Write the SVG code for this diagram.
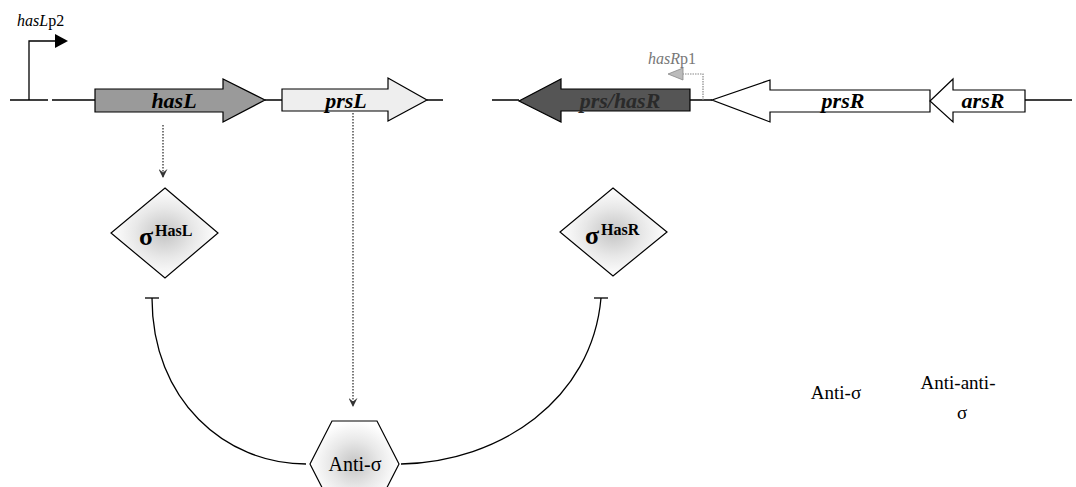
<svg xmlns="http://www.w3.org/2000/svg" width="1076" height="487" viewBox="0 0 1076 487">
<style>
.dna{stroke:#000;stroke-width:1.3;fill:none}
.gene{stroke:#000;stroke-width:1.2}
.gl{font-family:"Liberation Serif",serif;font-style:italic;font-weight:bold;font-size:22px;text-anchor:middle}
.lab{font-family:"Liberation Serif",serif;font-size:16px}
.node{stroke:#000;stroke-width:1.2;fill:url(#spk)}
.sig{font-family:"Liberation Serif",serif;font-weight:bold}
.anti{font-family:"Liberation Serif",serif;font-weight:normal;font-size:20px;text-anchor:middle}
.conn{stroke:#000;stroke-width:1.3;fill:none}
.dot{stroke:#333;stroke-width:1.3;stroke-dasharray:1.5 1.5;fill:none}
.leg{font-family:"Liberation Serif",serif;font-size:19px;text-anchor:middle}
</style>
<defs>
<radialGradient id="spk" cx="0.5" cy="0.5" r="0.5">
<stop offset="0" stop-color="#c4c4c4"/>
<stop offset="0.55" stop-color="#e8e8e8"/>
<stop offset="1" stop-color="#ffffff"/>
</radialGradient>
<marker id="chev" viewBox="0 0 10 10" refX="9" refY="5" markerWidth="9" markerHeight="9" orient="auto" markerUnits="userSpaceOnUse">
<path d="M0,0 L10,5 L0,10 L4,5 Z" fill="#333"/>
</marker>
</defs>

<g id="dna">
<path class="dna" d="M10,100 H48 M52,100 H95 M265,100 H282 M427,100 H443 M492,100 H519 M690,100 H712 M1025,100 H1072"/>
</g>

<g id="promoter-hasLp2">
<path d="M29,100 V41 H56" stroke="#000" stroke-width="1.3" fill="none"/>
<path d="M55,34 L68,41 L55,48 Z" fill="#000"/>
<text class="lab" x="17" y="26"><tspan font-style="italic">hasL</tspan>p2</text>
</g>

<g id="gene-hasL">
<path class="gene" fill="#9a9a9a" d="M95,89 H223 V79 L265,100 L223,122 V112 H95 Z"/>
<text class="gl" x="174" y="108">hasL</text>
</g>

<g id="gene-prsL">
<path class="gene" fill="#eeeeee" d="M282,89 H388 V78 L427,100 L388,121 V111 H282 Z"/>
<text class="gl" x="346" y="108">prsL</text>
</g>

<g id="gene-hasR">
<path class="gene" fill="#555555" d="M690,89 H561 V79 L519,101 L561,122 V111 H690 Z"/>
<text class="gl" x="620" y="108" fill="#2a2a2a">prs/hasR</text>
</g>

<g id="promoter-hasRp1">
<path d="M703,100 V74 H682" stroke="#888" stroke-width="1.2" stroke-dasharray="1.5 1" fill="none"/>
<path d="M683,68 L668,74 L683,80 Z" fill="#bbbbbb" stroke="#888" stroke-width="0.8"/>
<text class="lab" x="648" y="64" fill="#777"><tspan font-style="italic">hasR</tspan>p1</text>
</g>

<g id="gene-prsR">
<path class="gene" fill="#ffffff" d="M930,90 H770 V80 L712,100 L770,122 V112 H930 Z"/>
<text class="gl" x="843" y="108">prsR</text>
</g>

<g id="gene-arsR">
<path class="gene" fill="#ffffff" d="M1025,90 H953 V79 L930,101 L953,122 V112 H1025 Z"/>
<text class="gl" x="983" y="108">arsR</text>
</g>

<g id="sigma-HasL">
<path class="node" d="M165,188 L218,233 L165,278 L111,233 Z"/>
<text class="sig" x="139" y="245" font-size="26">σ</text>
<text class="sig" x="155" y="236" font-size="16">HasL</text>
</g>

<g id="sigma-HasR">
<path class="node" d="M613,188 L667,232 L613,276 L560,232 Z"/>
<text class="sig" x="585" y="244" font-size="26">σ</text>
<text class="sig" x="601" y="235" font-size="16">HasR</text>
</g>

<g id="anti-sigma">
<path class="node" d="M332,421 L377,421 L399,464 L377,507 L332,507 L310,464 Z"/>
<text class="anti" x="355" y="471">Anti-σ</text>
</g>

<g id="connectors">
<path class="dot" d="M163,125 V177" marker-end="url(#chev)"/>
<path class="dot" d="M353,113 V406" marker-end="url(#chev)"/>
<path class="conn" d="M306,464 C225,464 152,400 152,298"/>
<path class="conn" d="M145,298 H159"/>
<path class="conn" d="M401,464 C500,462 592,400 601,298"/>
<path class="conn" d="M594,298 H608"/>
</g>

<g id="legend">
<text class="leg" x="836" y="399">Anti-σ</text>
<text class="leg" x="958" y="389">Anti-anti-</text>
<text class="leg" x="962" y="419">σ</text>
</g>
</svg>
